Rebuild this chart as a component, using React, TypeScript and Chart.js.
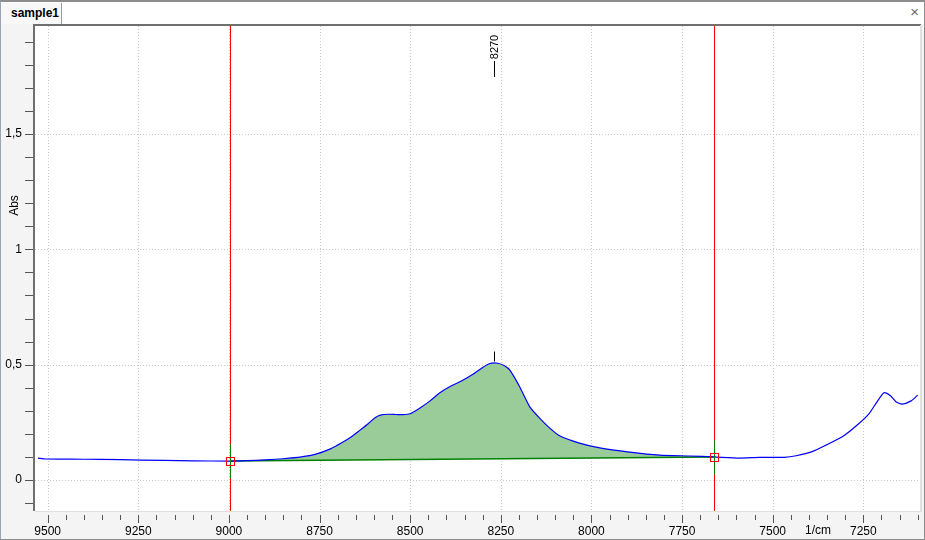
import React, { useEffect, useRef } from 'react';
import { Chart, registerables } from 'chart.js';

Chart.register(...registerables);

// Spectrum (wavenumber in 1/cm, absorbance)
const wavenumbers = [
  9527, 9505, 9400, 9300, 9180, 9100, 8997, 8950, 8900, 8850, 8800, 8760, 8720, 8690, 8660, 8640,
  8615, 8597, 8580, 8560, 8540, 8520, 8500, 8475, 8445, 8418, 8390, 8355, 8327, 8300, 8280, 8258,
  8240, 8225, 8198, 8170, 8143, 8115, 8088, 8033, 7977, 7895, 7812, 7730, 7662, 7592, 7537, 7468,
  7435, 7391, 7353, 7308, 7262, 7234, 7215, 7193, 7175, 7160, 7143, 7118, 7100,
];
const absorbance = [
  0.095, 0.091, 0.090, 0.088, 0.085, 0.083, 0.082, 0.084, 0.087, 0.092, 0.100, 0.112, 0.135, 0.160, 0.190, 0.214,
  0.245, 0.270, 0.282, 0.285, 0.284, 0.283, 0.287, 0.310, 0.343, 0.378, 0.405, 0.432, 0.458, 0.488, 0.505, 0.506,
  0.495, 0.476, 0.404, 0.317, 0.268, 0.225, 0.192, 0.160, 0.139, 0.121, 0.108, 0.104, 0.100, 0.095, 0.098, 0.098,
  0.105, 0.123, 0.151, 0.187, 0.245, 0.288, 0.332, 0.378, 0.365, 0.339, 0.329, 0.343, 0.368,
];

// Integration region and baseline
const regionLimits = [8997, 7662];
const baselineWavenumbers = [8997, 7662];
const baselineAbsorbance = [0.082, 0.100];

// Peak annotation
const peakPositions = [8270];
const peakLabels = ['8270'];

// Axis ticks
const xMajorTicks = [9500, 9250, 9000, 8750, 8500, 8250, 8000, 7750, 7500, 7250];
const yMajorTicks = [0, 0.5, 1, 1.5];
const xRange = [7093.6, 9535];
const yRange = [-0.1344, 1.968];
const xUnitLabel = '1/cm';
const xUnitPosition = 7375;
const yTitle = 'Abs';
const tabTitle = 'sample1';

const FONT = '"Liberation Sans", Arial, sans-serif';

const spectrumPoints = wavenumbers.map((w, i) => ({ x: w, y: absorbance[i] }));
const regionPoints = spectrumPoints.filter(
  (p) => p.x <= regionLimits[0] && p.x >= regionLimits[1]
);
const baselinePoints = baselineWavenumbers.map((w, i) => ({ x: w, y: baselineAbsorbance[i] }));

const decorPlugin = {
  id: 'decor',
  beforeDraw(chart: any) {
    const { ctx, chartArea: a, scales } = chart;
    const x = scales.x;
    const y = scales.y;
    ctx.save();
    ctx.fillStyle = '#ffffff';
    ctx.fillRect(a.left, a.top, a.right - a.left, a.bottom - a.top);

    // dotted grid
    ctx.strokeStyle = '#c8c8c8';
    ctx.lineWidth = 1;
    ctx.setLineDash([1, 2]);
    for (const v of xMajorTicks) {
      const px = Math.round(x.getPixelForValue(v)) + 0.5;
      ctx.beginPath();
      ctx.moveTo(px, a.top);
      ctx.lineTo(px, a.bottom);
      ctx.stroke();
    }
    for (const v of yMajorTicks) {
      const py = Math.round(y.getPixelForValue(v)) + 0.5;
      ctx.beginPath();
      ctx.moveTo(a.left, py);
      ctx.lineTo(a.right, py);
      ctx.stroke();
    }
    ctx.setLineDash([]);

    // sunken frame
    ctx.fillStyle = '#6f6f6f';
    ctx.fillRect(a.left - 2, a.top - 2, a.right - a.left + 3, 2);
    ctx.fillRect(a.left - 2, a.top - 2, 2, a.bottom - a.top + 2);
    ctx.fillStyle = '#e0e0e0';
    ctx.fillRect(a.right, a.top - 1, 2, a.bottom - a.top + 2);
    ctx.fillRect(a.left, a.bottom, a.right - a.left + 2, 1);

    // tick marks
    ctx.strokeStyle = '#555555';
    ctx.lineWidth = 1;
    for (let k = -1; k <= 19; k++) {
      const v = k / 10;
      const py = Math.round(y.getPixelForValue(v)) + 0.5;
      if (py < a.top || py > a.bottom) continue;
      ctx.beginPath();
      ctx.moveTo(a.left - 10, py);
      ctx.lineTo(a.left - 2, py);
      ctx.stroke();
    }
    for (let v = 7100; v <= 9500; v += 50) {
      const px = Math.round(x.getPixelForValue(v)) + 0.5;
      const len = v % 250 === 0 ? 8 : 5;
      ctx.beginPath();
      ctx.moveTo(px, a.bottom + 4);
      ctx.lineTo(px, a.bottom + 4 + len);
      ctx.stroke();
    }

    // axis titles
    ctx.fillStyle = '#000000';
    ctx.font = '12px ' + FONT;
    ctx.textAlign = 'center';
    ctx.textBaseline = 'middle';
    ctx.fillText(xUnitLabel, x.getPixelForValue(xUnitPosition), a.bottom + 20);
    ctx.save();
    ctx.translate(15, y.getPixelForValue(1.19));
    ctx.rotate(-Math.PI / 2);
    ctx.fillText(yTitle, 0, 0);
    ctx.restore();
    ctx.restore();
  },
  afterDatasetsDraw(chart: any) {
    const { ctx, chartArea: a, scales } = chart;
    const x = scales.x;
    const y = scales.y;
    ctx.save();
    ctx.lineWidth = 1;
    regionLimits.forEach((w, i) => {
      const px = Math.round(x.getPixelForValue(w)) + 0.5;
      const py = Math.round(y.getPixelForValue(baselineAbsorbance[i])) + 0.5;
      ctx.strokeStyle = '#ff0000';
      ctx.beginPath();
      ctx.moveTo(px, a.top);
      ctx.lineTo(px, a.bottom);
      ctx.stroke();
      ctx.strokeStyle = '#008000';
      ctx.beginPath();
      ctx.moveTo(px, py - 17);
      ctx.lineTo(px, py + 17);
      ctx.stroke();
      ctx.strokeStyle = '#ff0000';
      ctx.strokeRect(px - 4, py - 4, 8, 8);
    });

    peakPositions.forEach((w, i) => {
      let best = 0;
      wavenumbers.forEach((v, j) => {
        if (Math.abs(v - w) < Math.abs(wavenumbers[best] - w)) best = j;
      });
      const px = Math.round(x.getPixelForValue(w)) + 0.5;
      const py = y.getPixelForValue(absorbance[best]);
      ctx.strokeStyle = '#000000';
      ctx.beginPath();
      ctx.moveTo(px, py - 2);
      ctx.lineTo(px, py - 12);
      ctx.stroke();
      ctx.beginPath();
      ctx.moveTo(px, a.top + 35);
      ctx.lineTo(px, a.top + 51);
      ctx.stroke();
      ctx.save();
      ctx.translate(px, a.top + 21);
      ctx.rotate(-Math.PI / 2);
      ctx.fillStyle = '#000000';
      ctx.font = '11px ' + FONT;
      ctx.textAlign = 'center';
      ctx.textBaseline = 'middle';
      ctx.fillText(peakLabels[i], 0, 0);
      ctx.restore();
    });
    ctx.restore();
  },
};

export default function App() {
  const canvasRef = useRef<HTMLCanvasElement>(null);

  useEffect(() => {
    document.body.style.margin = '0';
    const canvas = canvasRef.current;
    if (!canvas) return;
    const chart = new Chart(canvas, {
      type: 'line',
      data: {
        datasets: [
          {
            label: 'spectrum',
            data: spectrumPoints,
            borderColor: '#0000ff',
            borderWidth: 1.2,
            pointRadius: 0,
            tension: 0.2,
            fill: false,
          },
          {
            label: 'baseline',
            data: baselinePoints,
            borderColor: '#008000',
            borderWidth: 1.5,
            pointRadius: 0,
            tension: 0,
            fill: false,
          },
          {
            label: 'region',
            data: regionPoints,
            borderColor: 'rgba(0,0,0,0)',
            borderWidth: 0,
            pointRadius: 0,
            tension: 0.2,
            backgroundColor: '#9acc99',
            fill: 1,
          },
        ],
      },
      options: {
        animation: false,
        responsive: false,
        devicePixelRatio: 1,
        events: [],
        layout: { padding: { top: 26, right: 5, left: 0, bottom: 0 } },
        plugins: {
          legend: { display: false },
          tooltip: { enabled: false },
        },
        scales: {
          x: {
            type: 'linear',
            reverse: true,
            min: xRange[0],
            max: xRange[1],
            afterBuildTicks: (scale: any) => {
              scale.ticks = xMajorTicks.map((v) => ({ value: v }));
            },
            afterFit: (scale: any) => {
              scale.height = 29;
            },
            grid: { display: false, drawTicks: false },
            border: { display: false },
            ticks: {
              autoSkip: false,
              maxRotation: 0,
              padding: 13,
              color: '#000000',
              font: { family: FONT, size: 12 },
              callback: (v: any) => String(v),
            },
          },
          y: {
            type: 'linear',
            min: yRange[0],
            max: yRange[1],
            afterBuildTicks: (scale: any) => {
              scale.ticks = yMajorTicks.map((v) => ({ value: v }));
            },
            afterFit: (scale: any) => {
              scale.width = 35;
            },
            grid: { display: false, drawTicks: false },
            border: { display: false },
            ticks: {
              autoSkip: false,
              padding: 13,
              color: '#000000',
              font: { family: FONT, size: 12 },
              callback: (v: any) => String(v).replace('.', ','),
            },
          },
        },
      },
      plugins: [decorPlugin],
    } as any);
    return () => chart.destroy();
  }, []);

  return (
    <div style={{ position: 'relative', width: 925, height: 540, background: '#f4f4f4', fontFamily: FONT, overflow: 'hidden' }}>
      <canvas ref={canvasRef} width={925} height={540} style={{ position: 'absolute', left: 0, top: 0, width: 925, height: 540 }} />
      <div style={{ position: 'absolute', left: 0, top: 0, width: 925, height: 24, background: '#ffffff' }}>
        <div
          style={{
            position: 'absolute',
            left: 1,
            top: 3,
            width: 61,
            height: 21,
            background: '#f8f8f8',
            borderRight: '1px solid #9a9a9a',
            fontWeight: 'bold',
            fontSize: 12,
            lineHeight: '21px',
            paddingLeft: 10,
            boxSizing: 'border-box',
            color: '#000000',
          }}
        >
          {tabTitle}
        </div>
        <div style={{ position: 'absolute', right: 6, top: 3, fontSize: 15, lineHeight: '18px', color: '#6a6a6a' }}>×</div>
      </div>
      <div
        style={{
          position: 'absolute',
          inset: 0,
          borderTop: '2px solid #8c8c8c',
          borderLeft: '1px solid #9aa4b4',
          borderRight: '1px solid #8c8c8c',
          borderBottom: '1px solid #8c8c8c',
          pointerEvents: 'none',
        }}
      />
    </div>
  );
}
